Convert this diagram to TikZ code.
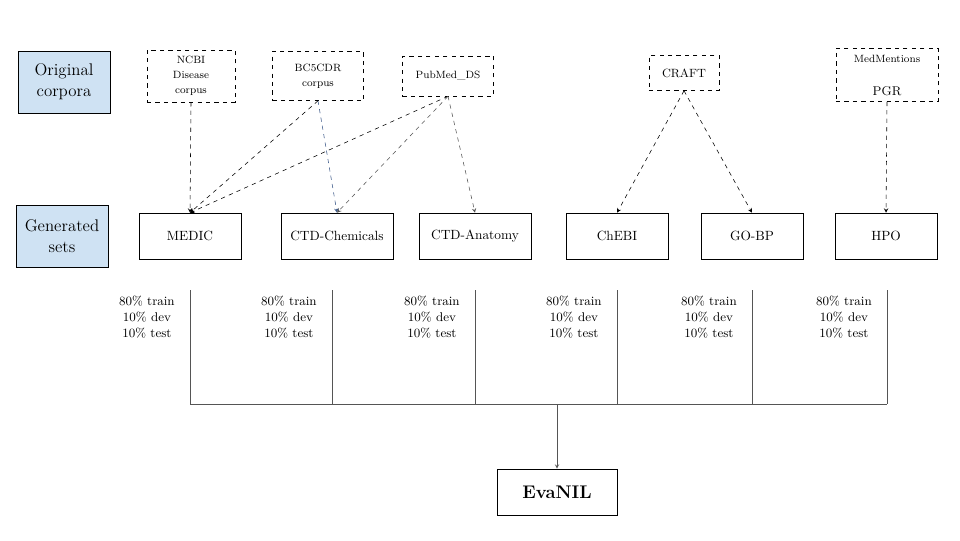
\documentclass[tikz,border=0pt]{standalone}
\usepackage{amsmath}
\usepackage{tikz}

\definecolor{headblue}{HTML}{CFE2F3}
\definecolor{linkblue}{HTML}{3D5A8A}
\definecolor{splitgray}{HTML}{555555}

\tikzset{
  headbox/.style={draw, fill=headblue, minimum width=2.3cm, minimum height=1.55cm, align=center, font=\fontsize{12}{15}\selectfont},
  corpusbox/.style={draw, dashed, align=center, inner sep=0pt, font=\fontsize{7.5}{10.5}\selectfont},
  setbox/.style={draw, minimum height=1.15cm, inner sep=0pt, font=\fontsize{9.5}{11}\selectfont},
  splitlabel/.style={anchor=north east, align=center, inner sep=0pt, font=\fontsize{9}{11.2}\selectfont}
}

\begin{document}
\begin{tikzpicture}[x=0.025cm, y=-0.025cm, >=stealth, thin]
        \useasboundingbox (0,0) rectangle (960,540);

        % row headers
        \node[headbox] (orig) at (64,82) {Original\\corpora};
        \node[headbox] (gen) at (62,236) {Generated\\sets};

        % original corpora
        \node[corpusbox, minimum width=2.2cm, minimum height=1.3cm] (ncbi) at (191,76) {NCBI\\Disease\\corpus};
        \node[corpusbox, minimum width=2.275cm, minimum height=1.225cm] (bcdr) at (318,76) {BC5CDR\\corpus};
        \node[corpusbox, minimum width=2.275cm, minimum height=1cm] (pubmed) at (448,76) {PubMed\_DS};
        \node[corpusbox, minimum width=1.75cm, minimum height=0.875cm, font=\fontsize{8.5}{10.5}\selectfont] (craft) at (684,73) {CRAFT};
        \node[corpusbox, minimum width=2.55cm, minimum height=1.325cm] (medm) at (887,75) {MedMentions\\[13pt]{\fontsize{9}{11}\selectfont PGR}};

        % generated sets
        \node[setbox, minimum width=2.55cm] (medic) at (190,236) {MEDIC};
        \node[setbox, minimum width=2.8cm] (chem) at (337,236) {CTD-Chemicals};
        \node[setbox, minimum width=2.8cm] (anat) at (475,236) {CTD-Anatomy};
        \node[setbox, minimum width=2.55cm] (chebi) at (617,236) {ChEBI};
        \node[setbox, minimum width=2.55cm] (gobp) at (752,236) {GO-BP};
        \node[setbox, minimum width=2.55cm] (hpo) at (886,236) {HPO};

        % mappings
        \draw[dashed, ->] (ncbi.south) -- (medic.north);
        \draw[dashed, ->] (bcdr.south) -- (medic.north);
        \draw[dashed, ->, linkblue] (bcdr.south) -- (chem.north);
        \draw[dashed, ->] (pubmed.south) -- (medic.north);
        \draw[dashed, ->, splitgray] (pubmed.south) -- (chem.north);
        \draw[dashed, ->, splitgray] (pubmed.south) -- (anat.north);
        \draw[dashed, ->] (craft.south) -- (chebi.north);
        \draw[dashed, ->] (craft.south) -- (gobp.north);
        \draw[dashed, ->] (medm.south) -- (hpo.north);

        % splits
        \foreach \x [count=\i] in {190,332,475,617,752,887} {
            \coordinate (top\i) at (\x,290);
            \coordinate (bot\i) at (\x,404);
            \draw[splitgray] (top\i) -- (bot\i);
            \node[splitlabel] (split\i) at (\x-15,296) {80\% train\\10\% dev\\10\% test};
        }
        \draw[splitgray] (bot1) -- (bot6);

        \node[draw, minimum width=3cm, minimum height=1.15cm, font=\fontsize{13}{15}\selectfont\bfseries] (evanil) at (557,492) {EvaNIL};
        \coordinate (join) at (557,404);
        \draw[->, splitgray] (join) -- (evanil.north);
    \end{tikzpicture}
\end{document}
